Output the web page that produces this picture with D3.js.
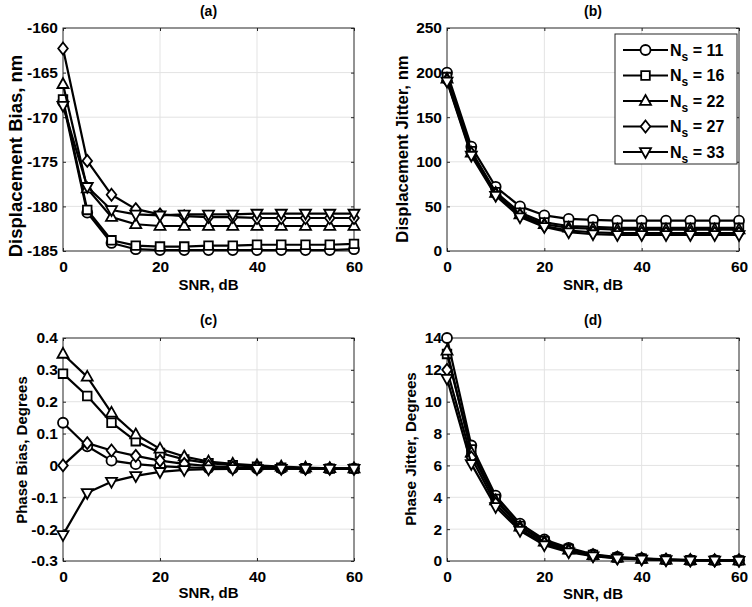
<!DOCTYPE html>
<html><head><meta charset="utf-8">
<script src="https://cdn.jsdelivr.net/npm/d3@7"></script>
<style>body{margin:0;background:#fff}svg{display:block}text{font-family:"Liberation Sans",Arial,sans-serif;font-weight:bold;fill:#000}</style>
</head><body>
<svg id="c" width="752" height="607"></svg>
<script>
const snr = [0,5,10,15,20,25,30,35,40,45,50,55,60];
const seriesNames = ["11","16","22","27","33"];
const markerTypes = ["circle","square","triangle","diamond","down"];

const dispBias11 = [-168.3,-180.7,-184.1,-184.8,-184.9,-184.9,-184.9,-184.9,-184.9,-184.9,-184.9,-184.9,-184.8];
const dispBias16 = [-168.0,-180.4,-183.8,-184.4,-184.5,-184.5,-184.4,-184.4,-184.3,-184.3,-184.3,-184.3,-184.2];
const dispBias22 = [-166.3,-178.0,-181.2,-182.0,-182.2,-182.2,-182.2,-182.2,-182.2,-182.2,-182.2,-182.2,-182.2];
const dispBias27 = [-162.3,-174.9,-178.7,-180.3,-180.9,-181.1,-181.2,-181.2,-181.3,-181.3,-181.3,-181.3,-181.3];
const dispBias33 = [-168.7,-177.8,-180.4,-180.9,-181.0,-180.9,-180.9,-180.9,-180.8,-180.8,-180.8,-180.8,-180.8];

const dispJit11 = [200,117,72,50,40,36,35,34,34,34,34,34,34];
const dispJit16 = [195,112,66,43,32,28,27,26,26,26,26,26,26];
const dispJit22 = [193,110,65,41,30,26,25,24,24,24,24,24,24];
const dispJit27 = [191,109,63,40,28,23,21,20,20,20,20,20,20];
const dispJit33 = [190,107,62,38,27,21,19,18,18,18,18,18,18];

const phBias11 = [0.134,0.060,0.015,0.004,-0.002,-0.006,-0.008,-0.009,-0.010,-0.010,-0.010,-0.010,-0.010];
const phBias16 = [0.288,0.218,0.134,0.076,0.039,0.019,0.007,0.001,-0.004,-0.007,-0.009,-0.010,-0.010];
const phBias22 = [0.350,0.278,0.165,0.097,0.052,0.028,0.012,0.005,0.000,-0.004,-0.007,-0.009,-0.010];
const phBias27 = [0.000,0.070,0.047,0.030,0.015,0.005,-0.002,-0.006,-0.008,-0.009,-0.010,-0.010,-0.010];
const phBias33 = [-0.218,-0.086,-0.051,-0.033,-0.020,-0.014,-0.012,-0.011,-0.011,-0.010,-0.010,-0.010,-0.010];

const phJit11 = [14.0,7.25,4.1,2.35,1.35,0.83,0.42,0.25,0.17,0.10,0.06,0.05,0.05];
const phJit16 = [13.0,7.0,3.9,2.2,1.25,0.75,0.38,0.22,0.15,0.09,0.05,0.04,0.04];
const phJit22 = [13.2,6.8,3.8,2.15,1.2,0.7,0.36,0.2,0.13,0.08,0.05,0.04,0.03];
const phJit27 = [12.0,6.5,3.6,2.0,1.1,0.62,0.33,0.18,0.12,0.07,0.04,0.03,0.03];
const phJit33 = [11.45,6.1,3.4,1.9,1.0,0.55,0.3,0.16,0.1,0.06,0.04,0.03,0.02];

const xTicks = [0,20,40,60];
const yTicksA = [-185,-180,-175,-170,-165,-160];
const yTicksB = [0,50,100,150,200,250];
const yTicksC = [-0.3,-0.2,-0.1,0,0.1,0.2,0.3,0.4];
const yTicksD = [0,2,4,6,8,10,12,14];

const panels = [
  {title:"(a)", ylabel:"Displacement Bias, nm", series:[dispBias11,dispBias16,dispBias22,dispBias27,dispBias33], yDomain:[-185,-160], yTicks:yTicksA,
   box:{l:63,r:354,t:28,b:251}, ylx:22, yly:156, ylfs:18.5, titleY:16, xlY:290, legend:false},
  {title:"(b)", ylabel:"Displacement Jitter, nm", series:[dispJit11,dispJit16,dispJit22,dispJit27,dispJit33], yDomain:[0,250], yTicks:yTicksB,
   box:{l:447,r:739,t:28,b:251}, ylx:408, yly:149, ylfs:16.7, titleY:16, xlY:290, legend:true},
  {title:"(c)", ylabel:"Phase Bias, Degrees", series:[phBias11,phBias16,phBias22,phBias27,phBias33], yDomain:[-0.3,0.4], yTicks:yTicksC,
   box:{l:63,r:354,t:338,b:561}, ylx:27, yly:450, ylfs:15, titleY:325, xlY:598, legend:false},
  {title:"(d)", ylabel:"Phase Jitter, Degrees", series:[phJit11,phJit16,phJit22,phJit27,phJit33], yDomain:[0,14], yTicks:yTicksD,
   box:{l:447,r:739,t:338,b:561}, ylx:416, yly:449, ylfs:15.2, titleY:325, xlY:599, legend:false}
];

const svg = d3.select("#c");
const axisColor = "#262626";

function markerPath(type){
  switch(type){
    case "circle": return d3.symbol().type(d3.symbolCircle).size(Math.PI*5*5)();
    case "square": return "M-4.3,-4.3H4.3V4.3H-4.3Z";
    case "triangle": return "M0,-6L5.5,3.8L-5.5,3.8Z";
    case "diamond": return "M0,-6L4.8,0L0,6L-4.8,0Z";
    case "down": return "M0,6L5.5,-3.8L-5.5,-3.8Z";
  }
}

panels.forEach(p => {
  const B = p.box;
  const x = d3.scaleLinear().domain([0,60]).range([B.l,B.r]);
  const y = d3.scaleLinear().domain(p.yDomain).range([B.b,B.t]);
  const g = svg.append("g");
  // grid
  g.append("g").selectAll("line").data(xTicks.slice(1,-1)).join("line")
    .attr("x1",d=>x(d)).attr("x2",d=>x(d)).attr("y1",B.t).attr("y2",B.b)
    .attr("stroke","#e3e3e3").attr("stroke-width",1);
  g.append("g").selectAll("line").data(p.yTicks.slice(1,-1)).join("line")
    .attr("y1",d=>y(d)).attr("y2",d=>y(d)).attr("x1",B.l).attr("x2",B.r)
    .attr("stroke","#e3e3e3").attr("stroke-width",1);
  // box
  g.append("rect").attr("x",B.l).attr("y",B.t).attr("width",B.r-B.l).attr("height",B.b-B.t)
    .attr("fill","none").attr("stroke",axisColor).attr("stroke-width",1);
  // axes
  const xb = d3.axisBottom(x).tickValues(xTicks).tickSize(-3).tickPadding(10).tickFormat(d3.format("d"));
  const xt = d3.axisTop(x).tickValues(xTicks).tickSize(-3).tickFormat("");
  const yl = d3.axisLeft(y).tickValues(p.yTicks).tickSize(-3).tickPadding(5).tickFormat(d=>String(+d.toFixed(2)));
  const yr = d3.axisRight(y).tickValues(p.yTicks).tickSize(-3).tickFormat("");
  [[xb,`translate(0,${B.b})`],[xt,`translate(0,${B.t})`],[yl,`translate(${B.l},0)`],[yr,`translate(${B.r},0)`]].forEach(([ax,tr])=>{
    const a = g.append("g").attr("transform",tr).call(ax);
    a.select(".domain").remove();
    a.selectAll("line").attr("stroke",axisColor);
    a.selectAll("text").attr("font-size",15.5).attr("font-family","Liberation Sans, Arial").attr("font-weight","bold").attr("fill","#000");
  });
  // lines + markers
  const line = d3.line().x((d,i)=>x(snr[i])).y(d=>y(d));
  p.series.forEach((s,k)=>{
    g.append("path").attr("d",line(s)).attr("fill","none").attr("stroke","#000").attr("stroke-width",2.2).attr("stroke-linejoin","round");
    g.append("g").selectAll("path").data(s).join("path")
      .attr("d",markerPath(markerTypes[k]))
      .attr("transform",(d,i)=>`translate(${x(snr[i])},${y(d)})`)
      .attr("fill","#fff").attr("stroke","#000").attr("stroke-width",1.8);
  });
  // title
  g.append("text").attr("x",(B.l+B.r)/2).attr("y",p.titleY).attr("text-anchor","middle").attr("font-size",14).text(p.title);
  // xlabel
  g.append("text").attr("x",(B.l+B.r)/2).attr("y",p.xlY).attr("text-anchor","middle").attr("font-size",15).text("SNR, dB");
  // ylabel
  g.append("text").attr("transform",`translate(${p.ylx},${p.yly}) rotate(-90)`).attr("text-anchor","middle").attr("font-size",p.ylfs).text(p.ylabel);
  // legend
  if(p.legend){
    const lg = g.append("g");
    const lx0 = 615, ly0 = 34, lw = 122, lh = 130;
    lg.append("rect").attr("x",lx0).attr("y",ly0).attr("width",lw).attr("height",lh).attr("fill","#fff").attr("stroke",axisColor).attr("stroke-width",1);
    seriesNames.forEach((n,k)=>{
      const yy = ly0 + 16 + k*25.5;
      lg.append("line").attr("x1",623).attr("x2",668).attr("y1",yy).attr("y2",yy).attr("stroke","#000").attr("stroke-width",2.2);
      lg.append("path").attr("d",markerPath(markerTypes[k])).attr("transform",`translate(645.5,${yy})`).attr("fill","#fff").attr("stroke","#000").attr("stroke-width",1.8);
      const t = lg.append("text").attr("x",670).attr("y",yy+5.5).attr("font-size",16);
      t.append("tspan").text("N");
      t.append("tspan").attr("font-size",12).attr("dy",5).text("s");
      t.append("tspan").attr("dy",-5).text(" = "+n);
    });
  }
});
</script>
</body></html>
